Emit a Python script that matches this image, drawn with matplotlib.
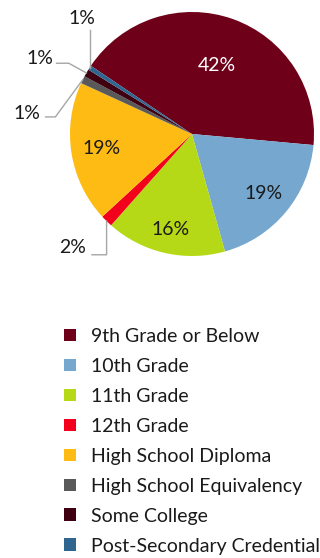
import numpy as np
import matplotlib
matplotlib.use("Agg")
import matplotlib.pyplot as plt
from matplotlib.patches import Patch

plt.rcParams['font.family'] = ['Lato', 'DejaVu Sans']

categories = ["9th Grade or Below", "10th Grade", "11th Grade", "12th Grade",
              "High School Diploma", "High School Equivalency", "Some College",
              "Post-Secondary Credential"]
shares = [42.0, 19.2, 15.9, 1.6, 18.7, 1.0, 1.0, 0.6]
colors = ["#6E0019", "#75A7CF", "#B5D916", "#F2001C", "#FDBB13", "#595959",
          "#3E0011", "#2F6690"]
label_colors = ["white", "#1a1a1a", "#1a1a1a", "#1a1a1a", "#1a1a1a",
                "#1a1a1a", "#1a1a1a", "#1a1a1a"]

W, H = 320, 558
fig = plt.figure(figsize=(W / 100, H / 100), dpi=100)

cx, cy, r = 192, 134, 122
ax = fig.add_axes([(cx - r) / W, (H - cy - r) / H, 2 * r / W, 2 * r / H])
wedges, _ = ax.pie(shares, colors=colors, startangle=146, counterclock=False,
                   radius=1.0, wedgeprops=dict(linewidth=0))
ax.set_xlim(-1, 1)
ax.set_ylim(-1, 1)
ax.set_aspect("equal")
ax.axis("off")

fs = 14

# inside labels for the larger slices
inside_r = {0: 0.6, 1: 0.76, 2: 0.8, 4: 0.75}
# outside labels: (label x, label y, elbow x, elbow y, line end x) in axes data units
outside = {
    3: (-0.98, -0.93, -0.7, -0.99, -0.82),
    5: (-1.35, 0.17, -1.12, 0.14, -1.2),
    6: (-1.25, 0.62, -1.01, 0.58, -1.11),
    7: (-0.9, 0.95, -0.84, 0.85, -0.84),
}

for i, (w, v) in enumerate(zip(wedges, shares)):
    mid = np.deg2rad((w.theta1 + w.theta2) / 2)
    txt = f"{round(v)}%"
    if i in inside_r:
        rr = inside_r[i]
        ax.text(rr * np.cos(mid), rr * np.sin(mid), txt, ha="center", va="center",
                fontsize=fs, color=label_colors[i])
    else:
        lx, ly, ex, ey, endx = outside[i]
        px, py = np.cos(mid), np.sin(mid)
        if i == 7:
            ax.plot([px, px], [py, ey], color="#A6A6A6", lw=1.0, clip_on=False)
        else:
            ax.plot([px, ex, endx], [py, ey, ey], color="#A6A6A6", lw=1.0,
                    clip_on=False)
        ax.text(lx, ly, txt, ha="center", va="center", fontsize=fs,
                color="#1a1a1a")

handles = [Patch(facecolor=c, edgecolor="none") for c in colors]
leg = fig.legend(handles, categories, loc="upper left",
                 bbox_to_anchor=(64 / W, 1 - 328 / H), frameon=False,
                 fontsize=fs, handlelength=0.62, handleheight=0.62,
                 handletextpad=0.78, labelspacing=0.665, borderaxespad=0,
                 borderpad=0)
for t in leg.get_texts():
    t.set_color("#1a1a1a")

fig.savefig("out.png", dpi=100)
